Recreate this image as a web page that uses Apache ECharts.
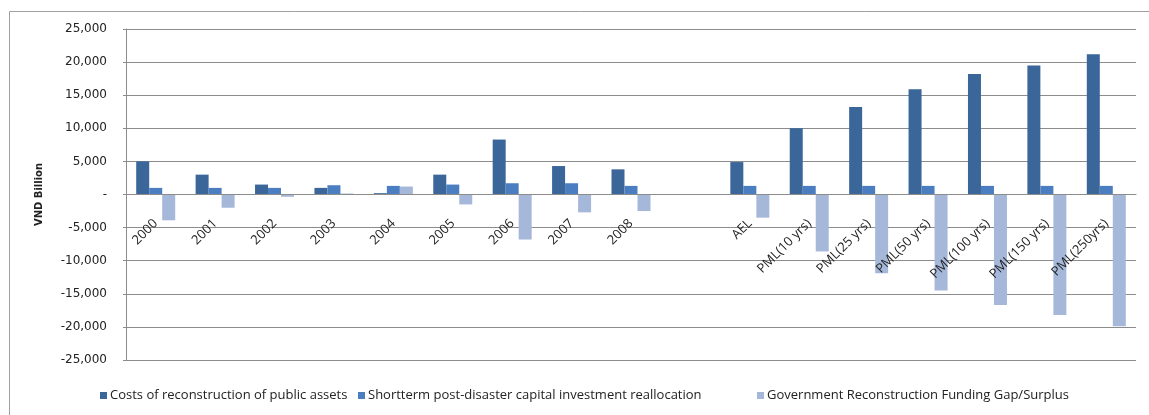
<!DOCTYPE html>
<html>
<head>
<meta charset="utf-8">
<title>Reconstruction funding gap</title>
<script src="https://cdn.jsdelivr.net/npm/echarts@6/dist/echarts.min.js"></script>
<style>
  html, body { margin: 0; padding: 0; background: #fff; }
  #chart { width: 1149px; height: 415px; }
</style>
</head>
<body>
<div id="chart"></div>
<script>
const categories = [
  "2000", "2001", "2002", "2003", "2004", "2005", "2006", "2007", "2008",
  "", "AEL", "PML(10 yrs)", "PML(25 yrs)", "PML(50 yrs)", "PML(100 yrs)",
  "PML(150 yrs)", "PML(250yrs)",
];

const reconstructionCosts = [
  5000, 3000, 1500, 1000, 200, 3000, 8300, 4300, 3800,
  null, 4900, 10000, 13200, 15900, 18200, 19500, 21200,
];

const shortTermReallocation = [
  1000, 1000, 1000, 1400, 1300, 1500, 1700, 1700, 1300,
  null, 1300, 1300, 1300, 1300, 1300, 1300, 1300,
];

const fundingGap = [
  -3900, -2000, -350, 150, 1200, -1500, -6800, -2700, -2500,
  null, -3500, -8600, -11900, -14500, -16700, -18200, -19900,
];

const yTicks = [-25000, -20000, -15000, -10000, -5000, 0, 5000, 10000, 15000, 20000, 25000];

const seriesNames = [
  "Costs of reconstruction of public assets",
  "Shortterm post-disaster capital investment reallocation",
  "Government Reconstruction Funding Gap/Surplus",
];

const colors = ["#3a6699", "#4a7ec0", "#a6b8d9"];
const legendLefts = [100, 358, 757];

const gridTop = 29;
const gridBottom = 55;
const chartHeight = 415;
// x axis sits on the zero line, half way down the plot
const zeroOffset = -(chartHeight - gridTop - gridBottom) / 2;

const chart = echarts.init(document.getElementById("chart"), null, {
  renderer: "canvas",
});

const makeBar = (name, data, color) => ({
  name,
  type: "bar",
  data,
  barWidth: 13,
  barGap: "0%",
  itemStyle: { color },
});

const makeLegend = (name, left) => ({
  bottom: 13,
  left,
  padding: 0,
  itemWidth: 7,
  itemHeight: 7,
  icon: "rect",
  textStyle: {
    fontFamily: "Open Sans",
    fontSize: 13,
    color: "#222",
    padding: [0, 0, 0, -2],
  },
  data: [name],
});

chart.setOption({
  animation: false,
  color: colors,
  graphic: [
    {
      type: "rect",
      left: 7,
      top: 9,
      shape: { width: 1200, height: 500 },
      style: { fill: null, stroke: "#a0a0a0", lineWidth: 1 },
      silent: true,
    },
  ],
  grid: {
    left: 126,
    right: 13,
    top: gridTop,
    bottom: gridBottom,
    containLabel: false,
    outerBoundsMode: "none",
  },
  legend: seriesNames.map((n, i) => makeLegend(n, legendLefts[i])),
  xAxis: {
    type: "category",
    data: categories,
    position: "bottom",
    offset: zeroOffset,
    z: 5,
    axisLine: { onZero: false, lineStyle: { color: "#8c8c8c" } },
    axisTick: { length: 4, lineStyle: { color: "#8c8c8c" } },
    axisLabel: {
      interval: 0,
      rotate: 45,
      margin: 27,
      fontFamily: "Open Sans",
      fontSize: 13,
      color: "#222",
    },
  },
  yAxis: {
    type: "value",
    min: yTicks[0],
    max: yTicks[yTicks.length - 1],
    interval: yTicks[1] - yTicks[0],
    name: "VND Billion",
    nameLocation: "middle",
    nameGap: 82,
    nameTextStyle: {
      fontFamily: "DejaVu Sans",
      fontSize: 10,
      fontWeight: "bold",
      color: "#222",
    },
    axisLine: { show: true, lineStyle: { color: "#8c8c8c" } },
    axisTick: { show: true, length: 3, lineStyle: { color: "#8c8c8c" } },
    splitLine: { lineStyle: { color: "#8c8c8c" } },
    axisLabel: {
      margin: 19,
      fontFamily: "DejaVu Sans",
      fontSize: 12,
      color: "#222",
      formatter: (v) => (v === 0 ? "-" : v.toLocaleString("en-US")),
    },
  },
  series: [
    makeBar(seriesNames[0], reconstructionCosts, colors[0]),
    makeBar(seriesNames[1], shortTermReallocation, colors[1]),
    makeBar(seriesNames[2], fundingGap, colors[2]),
  ],
});
</script>
</body>
</html>
